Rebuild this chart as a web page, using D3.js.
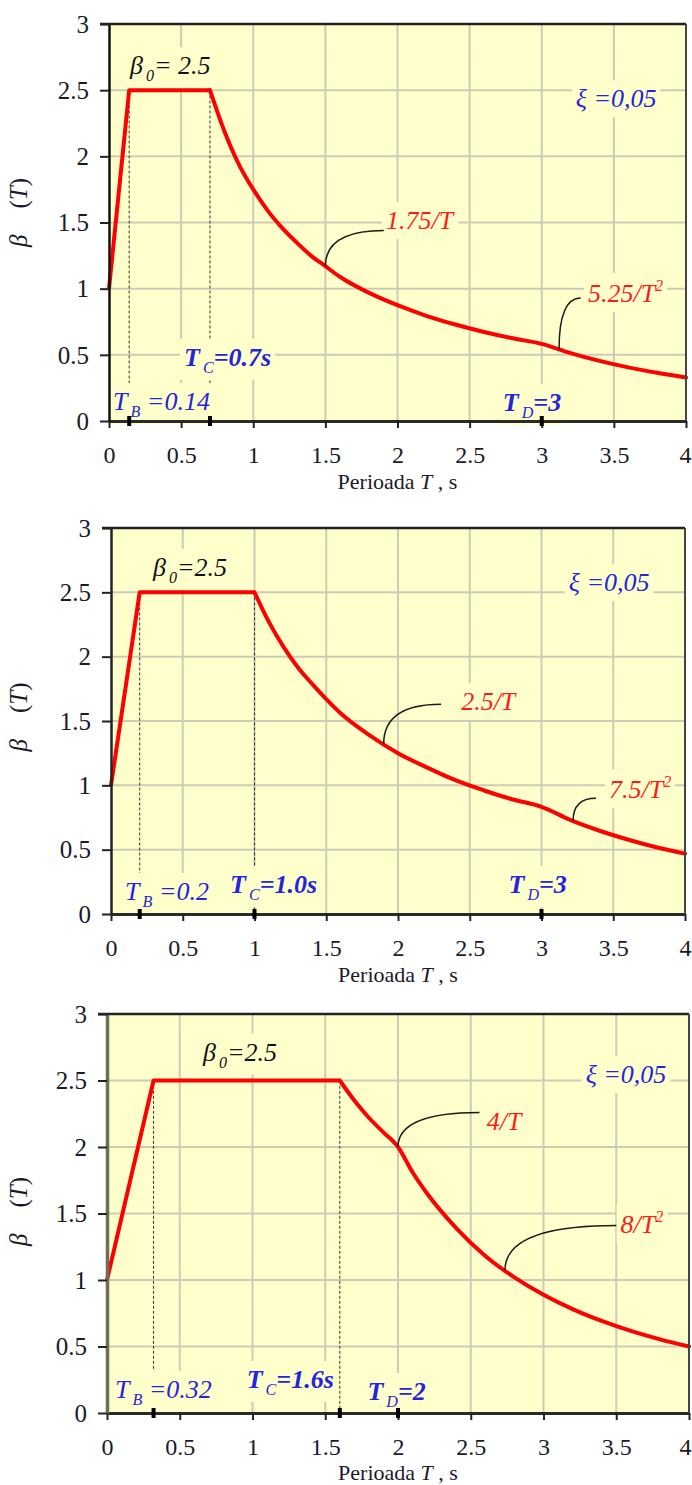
<!DOCTYPE html>
<html><head><meta charset="utf-8">
<script src="https://cdn.jsdelivr.net/npm/d3@7"></script>
<style>
body{margin:0;background:#fff;}
svg{display:block;}
text{font-family:"Liberation Serif","Times New Roman",serif;}
</style>
</head><body>
<svg id="c" width="692" height="1485"></svg>
<script>
// ---------- data ----------
const xTicks = [0, 0.5, 1, 1.5, 2, 2.5, 3, 3.5, 4];
const xTickLabels = ["0", "0.5", "1", "1.5", "2", "2.5", "3", "3.5", "4"];
const yTicks = [0, 0.5, 1, 1.5, 2, 2.5, 3];
const yTickLabels = ["0", "0.5", "1", "1.5", "2", "2.5", "3"];

// Panel 1 spectrum (T_B=0.14, T_C=0.7, T_D=3)
const period1 = [0, 0.14, 0.7, 0.8, 0.9, 1.0, 1.1, 1.2, 1.3, 1.4, 1.5, 1.6, 1.8, 2.0, 2.2, 2.4, 2.6, 2.8, 3.0, 3.2, 3.4, 3.6, 3.8, 4.0];
const beta1   = [1, 2.5, 2.5, 2.19, 1.94, 1.75, 1.59, 1.46, 1.35, 1.25, 1.17, 1.09, 0.97, 0.875, 0.795, 0.729, 0.673, 0.625, 0.583, 0.513, 0.454, 0.405, 0.364, 0.328];
// Panel 2 spectrum (T_B=0.2, T_C=1.0, T_D=3)
const period2 = [0, 0.2, 1.0, 1.1, 1.2, 1.3, 1.4, 1.5, 1.6, 1.8, 2.0, 2.2, 2.4, 2.6, 2.8, 3.0, 3.2, 3.4, 3.6, 3.8, 4.0];
const beta2   = [1, 2.5, 2.5, 2.27, 2.08, 1.92, 1.79, 1.67, 1.56, 1.39, 1.25, 1.14, 1.04, 0.96, 0.89, 0.833, 0.732, 0.649, 0.579, 0.519, 0.469];
// Panel 3 spectrum (T_B=0.32, T_C=1.6, T_D=2)
const period3 = [0, 0.32, 1.6, 1.7, 1.8, 1.9, 2.0, 2.1, 2.2, 2.4, 2.6, 2.8, 3.0, 3.2, 3.4, 3.6, 3.8, 4.0];
const beta3   = [1, 2.5, 2.5, 2.35, 2.22, 2.11, 2.0, 1.81, 1.65, 1.39, 1.18, 1.02, 0.889, 0.781, 0.692, 0.617, 0.554, 0.5];

const TB = [0.14, 0.2, 0.32];
const TC = [0.7, 1.0, 1.6];
const TD = [3, 3, 2];
const tbText = ["=0.14", "=0.2", "=0.32"];
const tcText = ["=0.7s", "=1.0s", "=1.6s"];
const tdText = ["=3", "=3", "=2"];
const beta0Text = ["= 2.5", "=2.5", "=2.5"];
const xiText = "=0,05";
const formula1 = ["1.75/T", "2.5/T", "4/T"];
const formula2 = ["5.25/T", "7.5/T", "8/T"];
const formula2Sup = "2";
const leaderT1 = [1.5, 1.9, 2.0];
const leaderT2 = [3.12, 3.22, 2.735];

// ---------- layout ----------
const panels = [
  {left:109, right:686, top:24,   bottom:421,  axisColor:"#111",    titleDy:68, series:[period1, beta1]},
  {left:111, right:685, top:528,  bottom:914,  axisColor:"#222",    titleDy:68, series:[period2, beta2]},
  {left:107, right:689, top:1014, bottom:1413, axisColor:"#6e6e58", titleDy:67, series:[period3, beta3]}
];
// annotation anchors in data units: [T, beta]
const anchors = [
  {beta0:[0.146,2.62], xi:[3.236,2.37], f1:[1.92,1.45], e1:[1.905,1.44], f2:[3.32,0.90], e2:[3.27,0.93], tb:[0.028,0.083], tc:[0.52,0.416], td:[2.73,0.076], ylab:-10},
  {beta0:[0.293,2.63], xi:[3.19,2.51], f1:[2.44,1.585], e1:[2.30,1.63], f2:[3.47,0.90], e2:[3.38,0.90], tb:[0.098,0.109], tc:[0.83,0.163], td:[2.77,0.163], ylab:-4},
  {beta0:[0.66,2.65], xi:[3.29,2.48], f1:[2.61,2.13], e1:[2.56,2.26], f2:[3.53,1.35], e2:[3.50,1.41], tb:[0.055,0.113], tc:[0.96,0.188], td:[1.79,0.098], ylab:-2}
];

const BG = "#ffffcc", GRID = "#cbcbb6", BLUE = "#2424dc", RED = "#ff1a1a";
const FS = 24, LFS = 26;
const svg = d3.select("#c");

function interp(Ts, Bs, t){
  const i = Math.min(d3.bisectRight(Ts, t) - 1, Ts.length - 2);
  const f = (t - Ts[i]) / (Ts[i+1] - Ts[i]);
  return Bs[i] + f * (Bs[i+1] - Bs[i]);
}

function rich(g, px, py, parts, opts){
  const t = g.append("text").attr("x", px).attr("y", py)
    .attr("font-size", opts.size).attr("fill", opts.color)
    .attr("font-style", "italic").attr("font-weight", opts.weight || "normal");
  let shift = 0;
  parts.forEach(([s, k]) => {
    const ts = t.append("tspan").text(s);
    const target = k === "sub" ? 7 : (k === "sup" ? -11 : 0);
    if (target - shift !== 0) ts.attr("dy", target - shift);
    shift = target;
    if (k === "sub" || k === "sup") ts.attr("font-size", opts.size * 0.62).attr("font-weight", "normal");
    if (k === "sub") ts.attr("dx", 3);
  });
  if (opts.box) {
    const bb = t.node().getBBox();
    g.insert("rect", () => t.node())
      .attr("x", bb.x - 4).attr("y", bb.y - 4)
      .attr("width", bb.width + 8).attr("height", bb.height + 8)
      .attr("fill", BG);
  }
  return t;
}

panels.forEach((p, i) => {
  const x = d3.scaleLinear().domain([0, 4]).range([p.left, p.right]);
  const y = d3.scaleLinear().domain([0, 3]).range([p.bottom, p.top]);
  const [Ts, Bs] = p.series;
  const a = anchors[i];
  const g = svg.append("g");

  g.append("rect").attr("x", x(0)).attr("y", y(3))
    .attr("width", x(4) - x(0)).attr("height", y(0) - y(3)).attr("fill", BG);

  // grid
  g.append("g").selectAll("line").data(xTicks.filter(d => d > 0 && d < 4)).join("line")
    .attr("x1", d => x(d)).attr("x2", d => x(d)).attr("y1", y(0)).attr("y2", y(3))
    .attr("stroke", GRID).attr("stroke-width", 2);
  g.append("g").selectAll("line").data(yTicks.filter(d => d > 0 && d < 3)).join("line")
    .attr("x1", x(0)).attr("x2", x(4)).attr("y1", d => y(d)).attr("y2", d => y(d))
    .attr("stroke", GRID).attr("stroke-width", 2);

  // dashed verticals at T_B and T_C
  g.append("g").selectAll("line").data([TB[i], TC[i]]).join("line")
    .attr("x1", d => x(d)).attr("x2", d => x(d)).attr("y1", y(2.46)).attr("y2", y(0))
    .attr("stroke", "#333").attr("stroke-width", 1).attr("stroke-dasharray", "3,2");

  // labels with boxes
  rich(g, x(a.beta0[0]), y(a.beta0[1]), [["β","n"],["0","sub"],[beta0Text[i],"n"]], {size:LFS, color:"#111", box:true});
  rich(g, x(a.xi[0]), y(a.xi[1]), [["ξ ","n"],[xiText,"n"]], {size:LFS, color:BLUE, box:true});
  rich(g, x(a.tb[0]), y(a.tb[1]), [["T","n"],["B","sub"],[" "+tbText[i],"n"]], {size:LFS, color:BLUE, box:true});
  rich(g, x(a.tc[0]), y(a.tc[1]), [["T","n"],["C","sub"],[tcText[i],"n"]], {size:LFS, color:BLUE, weight:"bold", box:true});
  rich(g, x(a.td[0]), y(a.td[1]), [["T","n"],["D","sub"],[tdText[i],"n"]], {size:LFS, color:BLUE, weight:"bold", box:true});
  rich(g, x(a.f1[0]), y(a.f1[1]), [[formula1[i],"n"]], {size:LFS, color:RED, box:true});
  rich(g, x(a.f2[0]), y(a.f2[1]), [[formula2[i],"n"],[formula2Sup,"sup"]], {size:LFS, color:RED, box:true});

  // curve
  const pts = Ts.map((t, k) => [t, Bs[k]]);
  const lin = d3.line().x(d => x(d[0])).y(d => y(d[1]));
  const mono = d3.line().x(d => x(d[0])).y(d => y(d[1])).curve(d3.curveMonotoneX);
  g.append("path").attr("d", lin(pts.slice(0, 3))).attr("fill", "none")
    .attr("stroke", "#ff0000").attr("stroke-width", 4).attr("stroke-linejoin", "round");
  g.append("path").attr("d", mono(pts.slice(2))).attr("fill", "none")
    .attr("stroke", "#ff0000").attr("stroke-width", 4).attr("stroke-linecap", "round");

  // leaders
  [[leaderT1[i], a.e1], [leaderT2[i], a.e2]].forEach(([t0, e]) => {
    const sx = x(t0), sy = y(interp(Ts, Bs, t0));
    const ex = x(e[0]), ey = y(e[1]);
    g.append("path").attr("d", `M${sx},${sy} Q${sx},${ey} ${ex},${ey}`)
      .attr("fill", "none").attr("stroke", "#1a1a1a").attr("stroke-width", 1.5);
  });

  // axes
  const ax = g.append("g").attr("transform", `translate(0,${y(0)})`)
    .call(d3.axisBottom(x).tickValues(xTicks).tickFormat((d, k) => xTickLabels[k]).tickSize(7).tickSizeOuter(0));
  ax.select(".domain").attr("stroke", "#2a2a2a").attr("stroke-width", 3);
  ax.selectAll(".tick line").attr("stroke", "#222").attr("stroke-width", 2);
  ax.selectAll(".tick text").attr("y", 42).attr("dy", 0).attr("font-size", FS)
    .attr("font-family", '"Liberation Serif","Times New Roman",serif').attr("fill", "#1a1a2a");
  ax.selectAll(".tick").each(function(d){
    const tx = d3.select(this).select("text");
    const w = tx.node().getComputedTextLength();
    if (x(d) + w / 2 > 691) tx.attr("x", 691 - x(d) - w / 2);
  });

  const ay = g.append("g").attr("transform", `translate(${x(0)},0)`)
    .call(d3.axisLeft(y).tickValues(yTicks).tickFormat((d, k) => yTickLabels[k]).tickSize(9).tickSizeOuter(0));
  ay.select(".domain").attr("stroke", p.axisColor).attr("stroke-width", i === 2 ? 3.5 : 2.5);
  ay.selectAll(".tick line").attr("stroke", "#222").attr("stroke-width", 2);
  ay.selectAll(".tick text").attr("x", -20).attr("dy", "0.33em").attr("font-size", 25)
    .attr("font-family", '"Liberation Serif","Times New Roman",serif').attr("fill", "#1a1a2a");

  // top & right border
  g.append("line").attr("x1", x(0) - 9).attr("x2", x(4)).attr("y1", y(3)).attr("y2", y(3))
    .attr("stroke", "#222").attr("stroke-width", 2.5);
  g.append("line").attr("x1", x(4)).attr("x2", x(4)).attr("y1", y(3)).attr("y2", y(0))
    .attr("stroke", "#444").attr("stroke-width", 2);

  // corner markers on x axis
  g.append("g").selectAll("rect").data([TB[i], TC[i], TD[i]]).join("rect")
    .attr("x", d => x(d) - 2).attr("y", y(0) - 5).attr("width", 4).attr("height", 10).attr("fill", "#000");

  // axis titles
  const yl = g.append("text").attr("transform", `translate(27,${(y(0) + y(3)) / 2 + a.ylab}) rotate(-90)`)
    .attr("text-anchor", "middle").attr("font-size", 25).attr("fill", "#1a1a2a");
  yl.append("tspan").attr("font-style", "italic").text("β");
  yl.append("tspan").attr("dx", 26).text("(");
  yl.append("tspan").attr("font-style", "italic").text("T");
  yl.append("tspan").text(")");

  const xl = g.append("text").attr("x", (x(0) + x(4)) / 2).attr("y", y(0) + p.titleDy)
    .attr("text-anchor", "middle").attr("font-size", 22).attr("fill", "#1a1a2a");
  xl.append("tspan").text("Perioada ");
  xl.append("tspan").attr("font-style", "italic").text("T");
  xl.append("tspan").text(" , s");
});
</script>
</body></html>
